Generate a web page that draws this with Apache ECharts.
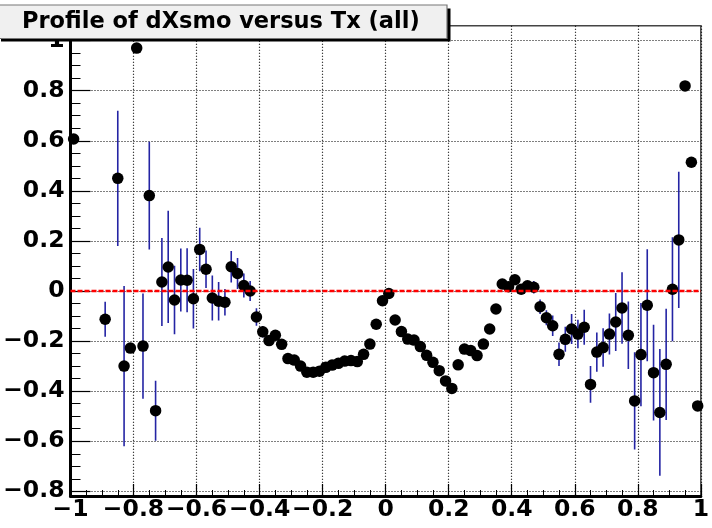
<!DOCTYPE html>
<html><head><meta charset="utf-8">
<script src="https://cdn.jsdelivr.net/npm/echarts@6/dist/echarts.min.js"></script>
<style>html,body{margin:0;padding:0;background:#fff}#c{width:712px;height:528px}</style>
</head><body><div id="c"></div>
<script>
const titleText = 'Profile of dXsmo versus Tx (all)';

const txBins = [-0.99,-0.97,-0.95,-0.93,-0.91,-0.89,-0.87,-0.85,-0.83,-0.81,
  -0.79,-0.77,-0.75,-0.73,-0.71,-0.69,-0.67,-0.65,-0.63,-0.61,
  -0.59,-0.57,-0.55,-0.53,-0.51,-0.49,-0.47,-0.45,-0.43,-0.41,
  -0.39,-0.37,-0.35,-0.33,-0.31,-0.29,-0.27,-0.25,-0.23,-0.21,
  -0.19,-0.17,-0.15,-0.13,-0.11,-0.09,-0.07,-0.05,-0.03,-0.01,
  0.01,0.03,0.05,0.07,0.09,0.11,0.13,0.15,0.17,0.19,
  0.21,0.23,0.25,0.27,0.29,0.31,0.33,0.35,0.37,0.39,
  0.41,0.43,0.45,0.47,0.49,0.51,0.53,0.55,0.57,0.59,
  0.61,0.63,0.65,0.67,0.69,0.71,0.73,0.75,0.77,0.79,
  0.81,0.83,0.85,0.87,0.89,0.91,0.93,0.95,0.97,0.99];

const dxMean = [0.607,null,null,null,null,-0.113,null,0.450,-0.300,-0.228,
  0.970,-0.220,0.381,-0.478,0.036,0.096,-0.036,0.044,0.043,-0.031,
  0.166,0.087,-0.028,-0.041,-0.045,0.097,0.070,0.022,0.000,-0.104,
  -0.163,-0.198,-0.177,-0.213,-0.270,-0.276,-0.300,-0.324,-0.324,-0.320,
  -0.305,-0.296,-0.289,-0.280,-0.278,-0.282,-0.253,-0.212,-0.133,-0.039,
  -0.010,-0.116,-0.162,-0.192,-0.196,-0.222,-0.257,-0.285,-0.318,-0.359,
  -0.389,-0.295,-0.232,-0.238,-0.258,-0.212,-0.152,-0.072,0.028,0.017,
  0.045,0.007,0.021,0.015,-0.063,-0.107,-0.139,-0.253,-0.193,-0.152,
  -0.172,-0.145,-0.373,-0.244,-0.226,-0.172,-0.124,-0.068,-0.177,-0.439,
  -0.254,-0.057,-0.326,-0.485,-0.293,0.007,0.204,0.819,0.514,-0.459];

const dxErr = [0,null,null,null,null,0.07,null,0.27,0.32,0,
  0,0.21,0.215,0.12,0.176,0.224,0.137,0.126,0.128,0.119,
  0.087,0.075,0.09,0.077,0.053,0.063,0.062,0.048,0.04,0.035,
  0.023,0.016,0.015,0.013,0.01,0.01,0.01,0.01,0.01,0.01,
  0.01,0.01,0.01,0.01,0.01,0.01,0.01,0.01,0.01,0.01,
  0.01,0.01,0.01,0.01,0.01,0.01,0.01,0.01,0.01,0.01,
  0.01,0.01,0.01,0.01,0.01,0.01,0.01,0.01,0.018,0.018,
  0.018,0.018,0.018,0.025,0.029,0.03,0.041,0.047,0.05,0.06,
  0.057,0.07,0.073,0.078,0.077,0.082,0.116,0.143,0.135,0.194,
  0.206,0.224,0.191,0.253,0.222,0.208,0.272,0,0,0];

const xRange = [-1, 1];
const xTickStep = 0.2;
const yRange = [-0.8187, 1.0595];
const yTickValues = [-0.8,-0.6,-0.4,-0.2,0,0.2,0.4,0.6,0.8,1];
const yMinorTickValues = [-0.75,-0.7,-0.65,-0.55,-0.5,-0.45,-0.35,-0.3,-0.25,-0.15,-0.1,-0.05,
  0.05,0.1,0.15,0.25,0.3,0.35,0.45,0.5,0.55,0.65,0.7,0.75,0.85,0.9,0.95,1.05];
const refLineY = 0;

function fmt(v){
  const r = Math.round(v*10)/10;
  if (Math.abs(r) < 1e-9) return '0';
  return (r < 0 ? '\u2212' : '') + String(Math.abs(r));
}

const pts = [], bars = [];
for (let i = 0; i < txBins.length; i++) {
  if (dxMean[i] === null) continue;
  pts.push([txBins[i], dxMean[i]]);
  if (dxErr[i] > 0) bars.push([txBins[i], dxMean[i], dxErr[i]]);
}

const FONT = '"DejaVu Sans", sans-serif';
const labelStyle = {color:'#000', fontFamily:FONT, fontWeight:'bold', fontSize:23.5};

const chart = echarts.init(document.getElementById('c'), null, {renderer:'canvas'});
chart.setOption({
  animation:false,
  backgroundColor:'#fff',
  grid:{left:70.5, right:6.5, top:25.7, bottom:32, show:true, borderColor:'#444', borderWidth:1.5, backgroundColor:'transparent'},
  xAxis:{
    type:'value', min:xRange[0], max:xRange[1], interval:xTickStep,
    axisLine:{show:true, onZero:false, lineStyle:{color:'#000', width:3}},
    axisTick:{show:true, inside:true, length:12, lineStyle:{color:'#000', width:1.2}},
    minorTick:{show:true, splitNumber:4, length:6, lineStyle:{color:'#000', width:1}},
    axisLabel:Object.assign({formatter:fmt, margin:2, showMinLabel:true, showMaxLabel:true}, labelStyle),
    splitLine:{show:true, lineStyle:{color:'#000', width:1.2, type:[1,2]}}
  },
  yAxis:[{
    type:'value', min:yRange[0], max:yRange[1], position:'left',
    axisLine:{show:true, onZero:false, lineStyle:{color:'#000', width:3}},
    axisTick:{show:true, inside:true, length:20, customValues:yTickValues, lineStyle:{color:'#000', width:1.2}},
    axisLabel:Object.assign({customValues:yTickValues, formatter:fmt, margin:6}, labelStyle),
    splitLine:{show:true, lineStyle:{color:'#000', width:1.2, type:[1,2]}},
    minorTick:{show:false}
  },{
    type:'value', min:yRange[0], max:yRange[1], position:'left', offset:0,
    axisLine:{show:false, onZero:false},
    axisTick:{show:true, inside:true, length:10, customValues:yMinorTickValues, lineStyle:{color:'#000', width:1}},
    axisLabel:{show:false},
    splitLine:{show:false},
    minorTick:{show:false}
  }],
  series:[{
    type:'custom',
    data:bars,
    encode:{x:0, y:1},
    clip:true,
    renderItem:function(params, api){
      const x = api.value(0), y = api.value(1), e = api.value(2);
      const p1 = api.coord([x, y + e]);
      const p2 = api.coord([x, y - e]);
      return {type:'line', shape:{x1:p1[0], y1:p1[1], x2:p2[0], y2:p2[1]},
        style:{stroke:'#2424a4', lineWidth:1.6}};
    },
    markLine:{
      silent:true, symbol:'none', animation:false,
      label:{show:false},
      lineStyle:{color:'#ff0000', width:2.4, type:[5,2], opacity:1},
      data:[{yAxis:refLineY}]
    }
  },{
    type:'scatter',
    data:pts,
    symbol:'circle',
    symbolSize:11.5,
    itemStyle:{color:'#000', opacity:1}
  }],
  graphic:[
    {type:'rect', shape:{x:1, y:8.5, width:449.5, height:33}, style:{fill:'#000'}, z:100},
    {type:'rect', shape:{x:-2, y:5, width:449, height:33.5}, style:{fill:'#f0f0f0', stroke:'#777', lineWidth:1.2}, z:101},
    {type:'text', x:22, y:22, style:{text:titleText, font:'bold 22.5px "DejaVu Sans", sans-serif', fill:'#000', verticalAlign:'middle', align:'left'}, z:102}
  ]
});
</script>
</body></html>
